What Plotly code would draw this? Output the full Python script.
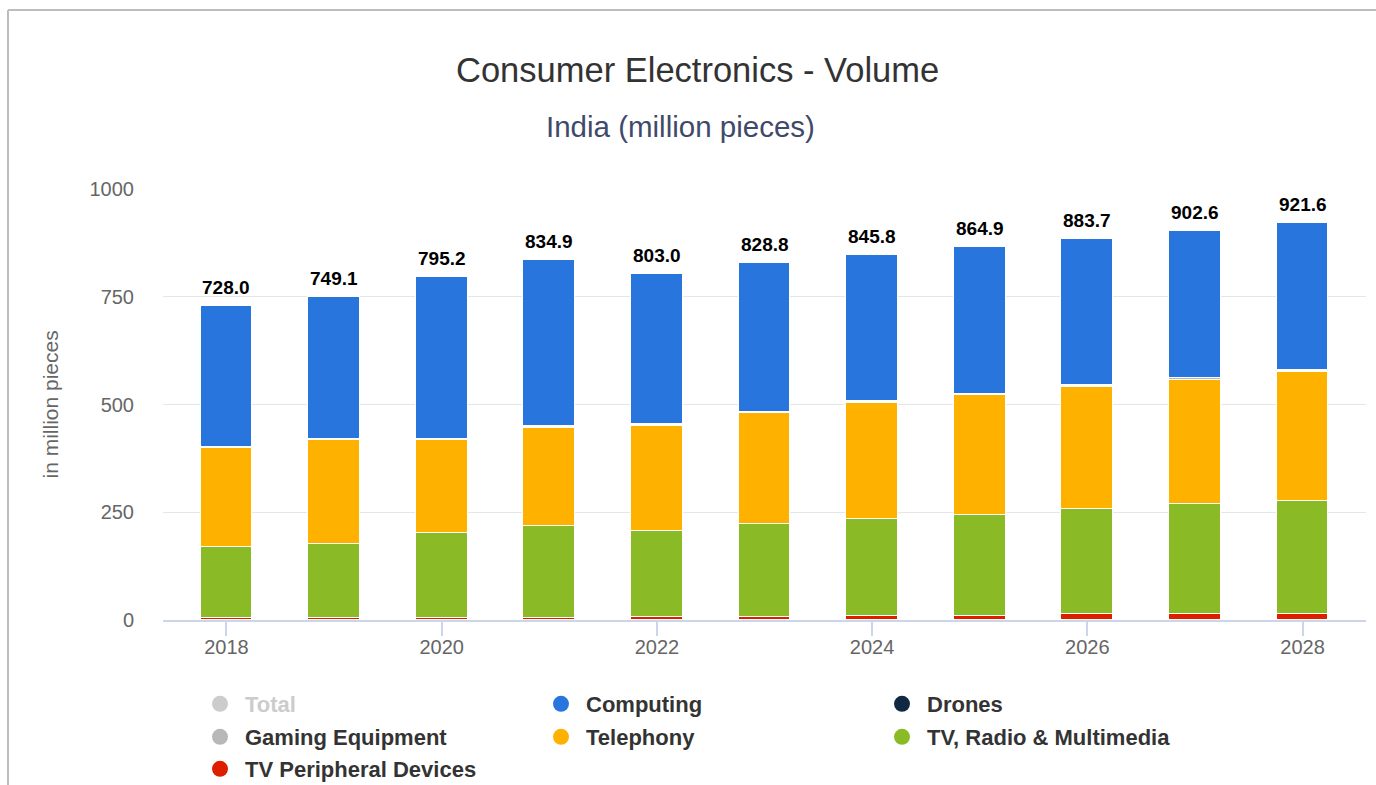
import plotly.graph_objects as go

years = [2018, 2019, 2020, 2021, 2022, 2023, 2024, 2025, 2026, 2027, 2028]
totals = [728.0, 749.1, 795.2, 834.9, 803.0, 828.8, 845.8, 864.9, 883.7, 902.6, 921.6]
computing = [327.4, 328.3, 374.2, 385.7, 348.6, 345.2, 338.0, 339.9, 339.5, 340.2, 342.0]
drones = [0.4, 0.5, 0.6, 0.7, 0.8, 0.9, 1.0, 1.1, 1.2, 1.3, 1.4]
gaming = [2.2, 2.3, 2.4, 2.5, 2.6, 2.7, 2.8, 2.9, 3.0, 3.1, 3.2]
telephony = [228, 241, 216, 228, 244, 257, 269, 278, 283, 290, 299]
tv_radio = [165, 173, 198, 214, 201, 217, 225, 233, 243, 254, 262]
tv_periph = [5, 4, 4, 4, 6, 6, 10, 10, 14, 14, 14]

x_ticks = [2018, 2020, 2022, 2024, 2026, 2028]
y_ticks = [0, 250, 500, 750, 1000]

FONT = "Liberation Sans, Arial, Helvetica, sans-serif"

series = [
    # (name, values, color, legend id, legendrank)
    ("TV Peripheral Devices", tv_periph, "#DD1F00", "legend3", 7),
    ("TV, Radio & Multimedia", tv_radio, "#8ABB26", "legend2", 6),
    ("Telephony", telephony, "#FFB100", "legend2", 5),
    ("Gaming Equipment", gaming, "#B8B8B8", "legend2", 4),
    ("Drones", drones, "#0F2942", "legend", 3),
    ("Computing", computing, "#2876DD", "legend", 2),
]

fig = go.Figure()

for name, vals, color, lg, rank in series:
    fig.add_trace(go.Bar(
        x=years, y=vals, name=name, width=0.48,
        marker=dict(color=color, line=dict(color="#ffffff", width=1)),
        showlegend=False, legendgroup=name,
    ))

# legend entries (circle symbols)
fig.add_trace(go.Scatter(
    x=[None], y=[None], mode="markers", name="<span style='color:#cccccc'>Total</span>",
    marker=dict(color="#cccccc", size=20, symbol="circle"), legendrank=1, legend="legend",
))
for name, vals, color, lg, rank in series:
    fig.add_trace(go.Scatter(
        x=[None], y=[None], mode="markers", name=name, legendgroup=name,
        marker=dict(color=color, size=20, symbol="circle"), legendrank=rank, legend=lg,
    ))

# total labels
for yr, tot in zip(years, totals):
    fig.add_annotation(
        x=yr, y=tot, text=f"{tot:.1f}", showarrow=False,
        yanchor="bottom", yshift=6,
        font=dict(family=FONT, size=19, color="#000000", weight="bold"),
    )

def px_to_paper_x(px):
    return (px - 163) / 1203

def px_to_paper_y(py):
    return (620 - py) / 431

# titles
fig.add_annotation(
    text="Consumer Electronics - Volume", xref="paper", yref="paper",
    x=px_to_paper_x(697.5), y=px_to_paper_y(70), xanchor="center", yanchor="middle",
    showarrow=False, font=dict(family=FONT, size=34.5, color="#333333"),
)
fig.add_annotation(
    text="India (million pieces)", xref="paper", yref="paper",
    x=px_to_paper_x(680.5), y=px_to_paper_y(127), xanchor="center", yanchor="middle",
    showarrow=False, font=dict(family=FONT, size=29.5, color="#3F4A6B"),
)
fig.add_annotation(
    text="in million pieces", xref="paper", yref="paper",
    x=px_to_paper_x(50), y=0.5, xanchor="center", yanchor="middle", textangle=-90,
    showarrow=False, font=dict(family=FONT, size=21, color="#666666"),
)

# frame lines
fig.add_shape(type="line", xref="paper", yref="paper",
              x0=px_to_paper_x(8), x1=px_to_paper_x(1390),
              y0=px_to_paper_y(10), y1=px_to_paper_y(10),
              line=dict(color="#BDBDBD", width=2))
fig.add_shape(type="line", xref="paper", yref="paper",
              x0=px_to_paper_x(8), x1=px_to_paper_x(8),
              y0=px_to_paper_y(10), y1=px_to_paper_y(800),
              line=dict(color="#BDBDBD", width=2))

legend_common = dict(
    orientation="h", xanchor="left", yanchor="middle",
    entrywidth=286, entrywidthmode="pixels", itemwidth=40,
    font=dict(family=FONT, size=22, color="#333333", weight="bold"),
    itemclick=False, itemdoubleclick=False,
    bgcolor="rgba(0,0,0,0)",
)
lx = px_to_paper_x(195)

fig.update_layout(
    width=1376, height=785, autosize=False,
    margin=dict(l=163, r=10, t=189, b=165, autoexpand=False),
    paper_bgcolor="#ffffff", plot_bgcolor="#ffffff",
    barmode="stack", bargap=0,
    font=dict(family=FONT, color="#666666"),
    showlegend=True,
    legend=dict(x=lx, y=px_to_paper_y(704), **legend_common),
    legend2=dict(x=lx, y=px_to_paper_y(737), **legend_common),
    legend3=dict(x=lx, y=px_to_paper_y(769), **legend_common),
    xaxis=dict(
        range=[2017.41, 2028.59], tickmode="array", tickvals=x_ticks,
        ticktext=[str(v) for v in x_ticks],
        showgrid=False, zeroline=False,
        showline=True, linecolor="#CCD6EB", linewidth=2,
        ticks="outside", ticklen=14, tickcolor="#CCD6EB", tickwidth=2,
        ticklabelstandoff=-6,
        tickfont=dict(family=FONT, size=20, color="#666666"),
    ),
    yaxis=dict(
        range=[0, 1000], tickmode="array", tickvals=y_ticks,
        showgrid=True, gridcolor="#E6E6E6", gridwidth=1,
        zeroline=False, showline=False, ticks="",
        ticklabelstandoff=28,
        tickfont=dict(family=FONT, size=20, color="#666666"),
    ),
)

fig.write_html("out.html")
